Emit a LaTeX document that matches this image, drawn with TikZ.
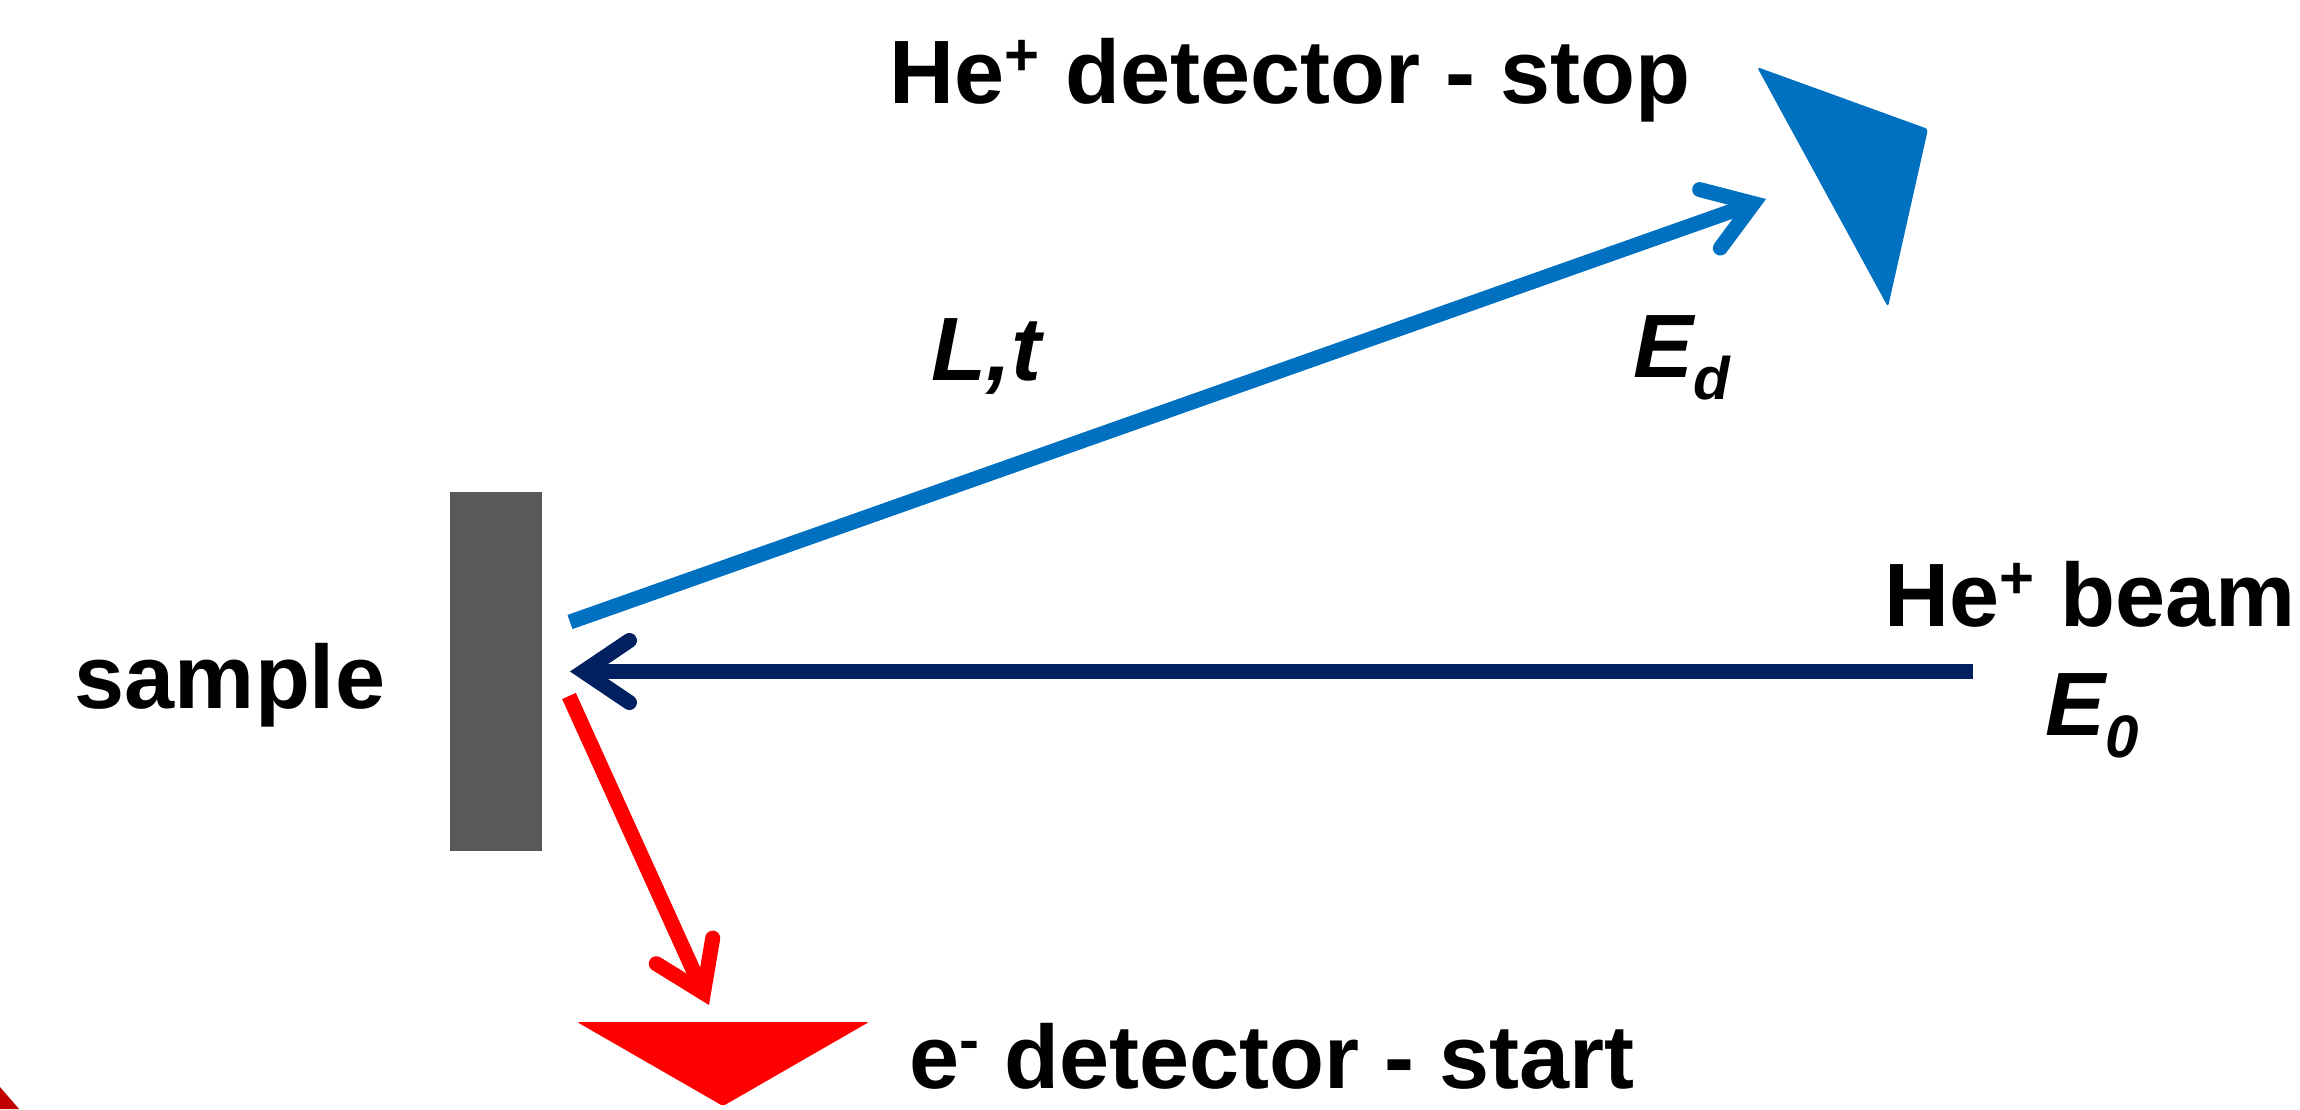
\documentclass[tikz,border=0pt]{standalone}
\usepackage{fontspec}
\setmainfont{Liberation Sans}
\usetikzlibrary{arrows.meta}
\definecolor{hblue}{HTML}{0070C0}
\definecolor{hnavy}{HTML}{002060}
\definecolor{hred}{HTML}{FF0000}
\definecolor{hgray}{HTML}{595959}
\definecolor{hdred}{HTML}{C00000}
\newcommand{\supx}[1]{\raisebox{28pt}{\fontsize{60}{60}\selectfont #1}}
\newcommand{\subx}[1]{\raisebox{-22pt}{\fontsize{60}{60}\selectfont #1}}
\begin{document}
\begin{tikzpicture}[x=1pt,y=-1pt,
  lbl/.style={inner sep=0pt, anchor=base, font=\bfseries\fontsize{90}{100}\selectfont},
  ray/.style={line width=15pt, line cap=butt},
  tipA/.style={-{Straight Barb[length=46pt,width=62pt,line cap=round,line join=miter]}}]
\useasboundingbox (0,0) rectangle (2300,1109);

% sample
\node[fill=hgray, inner sep=0pt, minimum width=92pt, minimum height=359pt] (samp) at (496,671.5) {};

% detectors
\fill[hblue, rounded corners=3pt] (1757,67) -- (1928,129) -- (1888,307) -- cycle;
\fill[hred, rounded corners=2pt] (577,1022) -- (869,1022) -- (723,1106) -- cycle;
\fill[hdred] (0,1087) -- (19,1109) -- (0,1109) -- cycle;

% ray endpoints
\coordinate (bs) at (570,622);
\coordinate (bt) at (1766,199);
\coordinate (ns) at (1973,671.5);
\coordinate (nt) at (570,671.5);
\coordinate (rs) at (569,696);
\coordinate (rt) at (709,1005);

\draw[ray, hblue, tipA] (bs) -- (bt);
\draw[ray, hnavy, tipA] (ns) -- (nt);
\draw[ray, hred, tipA] (rs) -- (rt);

% labels
\node[lbl] (stop) at (1290,103) {He\supx{+} detector - stop};
\node[lbl] (lt) at (986,380) {\itshape L,t};
\node[lbl] (ed) at (1682,377) {\itshape E\subx{d}};
\node[lbl] (beam) at (2090,626) {He\supx{+} beam};
\node[lbl] (ez) at (2092,735) {\itshape E\subx{0}};
\node[lbl] (samplbl) at (230,708) {sample};
\node[lbl] (start) at (1272,1088) {e\supx{-} detector - start};
\end{tikzpicture}
\end{document}
